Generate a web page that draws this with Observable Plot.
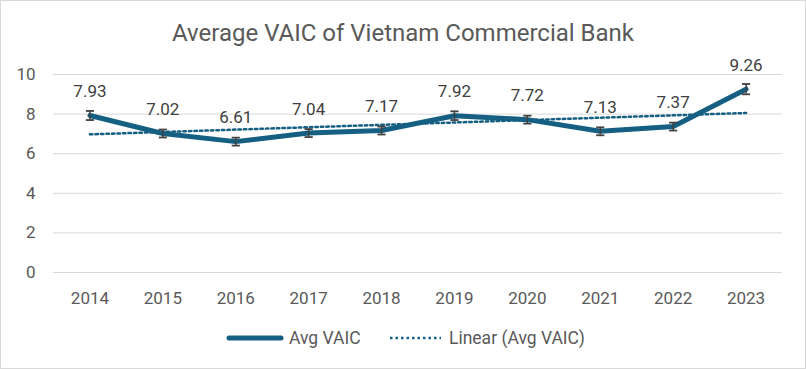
<!DOCTYPE html>
<html><head><meta charset="utf-8">
<script src="https://cdn.jsdelivr.net/npm/d3@7"></script>
<script src="https://cdn.jsdelivr.net/npm/@observablehq/plot@0.6"></script>
<style>
html,body{margin:0;padding:0;background:#fff;}
#wrap{position:relative;width:804px;height:367px;border:1px solid #d9d9d9;font-family:Roboto,sans-serif;color:#595959;overflow:hidden;}
#title{position:absolute;left:0;top:17px;width:804px;text-align:center;font-size:24px;line-height:30px;}
#chart{position:absolute;left:0;top:55px;}
#legend{position:absolute;top:326px;left:0;width:804px;height:22px;font-size:17.5px;}
.item{position:absolute;top:0;display:flex;align-items:center;height:22px;white-space:nowrap;}
.item svg{margin-right:5px;}
</style></head><body>
<div id="wrap">
<div id="title">Average VAIC of Vietnam Commercial Bank</div>
<div id="chart"></div>
<div id="legend">
<div class="item" style="left:225px"><svg width="58" height="10"><line x1="3" y1="5" x2="55" y2="5" stroke="#156082" stroke-width="5" stroke-linecap="round"/></svg>Avg VAIC</div>
<div class="item" style="left:387px"><svg width="56" height="10"><line x1="2" y1="5" x2="53" y2="5" stroke="#156082" stroke-width="2.5" stroke-dasharray="2.5 3"/></svg>Linear (Avg VAIC)</div>
</div>
</div>
<script>
const years = ["2014","2015","2016","2017","2018","2019","2020","2021","2022","2023"];
const values = [7.93,7.02,6.61,7.04,7.17,7.92,7.72,7.13,7.37,9.26];
const errors = [0.23,0.2,0.2,0.2,0.2,0.22,0.2,0.2,0.2,0.26];
const yTicks = [0,2,4,6,8,10];

const color = "#156082";
const data = years.map((y,i)=>({year:y, v:values[i], e:errors[i], i}));
// linear trendline (least squares on index), as Excel computes it
const mx = d3.mean(data, d=>d.i), my = d3.mean(values);
const slope = d3.sum(data, d=>(d.i-mx)*(d.v-my)) / d3.sum(data, d=>(d.i-mx)**2);
const trend = data.map(d=>({year:d.year, t: my + slope*(d.i-mx)}));

const cap = {draw(ctx, size){ const w = Math.sqrt(size)/2; ctx.moveTo(-w,0); ctx.lineTo(w,0); }};

const plot = Plot.plot({
  width: 804, height: 265,
  marginLeft: 52, marginRight: 23, marginTop: 18, marginBottom: 49,
  style:{fontFamily:"Roboto, sans-serif", fontSize:"17px", color:"#595959", background:"transparent"},
  x:{type:"point", domain:years, padding:0.5, round:false, label:null},
  y:{domain:[0,10], label:null},
  marks:[
    Plot.gridY(yTicks, {stroke:"#d9d9d9", strokeOpacity:1, strokeWidth:1}),
    Plot.axisX({tickSize:0, tickPadding:19, fontSize:17, fill:"#595959"}),
    Plot.axisY(yTicks, {tickSize:0, tickPadding:18, fontSize:17, fill:"#595959", tickFormat:d=>d}),
    Plot.line(trend, {x:"year", y:"t", stroke:color, strokeWidth:2.5, strokeDasharray:"2.5 3"}),
    Plot.line(data, {x:"year", y:"v", stroke:color, strokeWidth:5, strokeLinejoin:"round"}),
    Plot.ruleX(data, {x:"year", y1:d=>d.v-d.e, y2:d=>d.v+d.e, stroke:"#404040", strokeWidth:1.5}),
    Plot.dot(data, {x:"year", y:d=>d.v-d.e, symbol:cap, r:4.6, stroke:"#404040", strokeWidth:1.8}),
    Plot.dot(data, {x:"year", y:d=>d.v+d.e, symbol:cap, r:4.6, stroke:"#404040", strokeWidth:1.8}),
    Plot.text(data, {x:"year", y:"v", text:d=>d.v.toFixed(2), dy:-24, fill:"#404040", fontSize:17})
  ]
});
document.getElementById("chart").appendChild(plot);
</script>
</body></html>
